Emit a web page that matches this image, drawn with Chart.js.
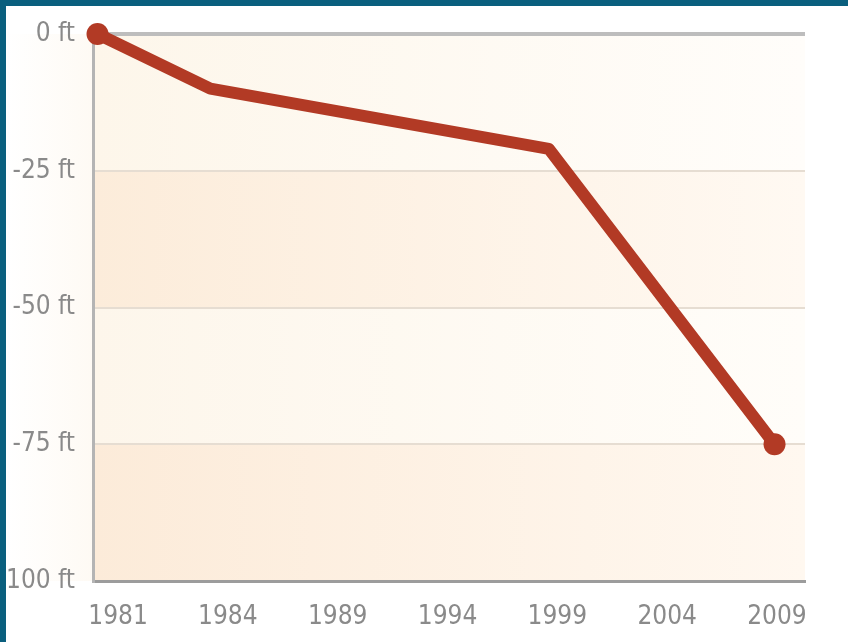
<!DOCTYPE html>
<html><head><meta charset="utf-8">
<script src="https://cdn.jsdelivr.net/npm/chart.js@4/dist/chart.umd.min.js"></script>
<style>html,body{margin:0;padding:0;background:#fff;}canvas{display:block;}</style>
</head><body>
<canvas id="c" width="848" height="642"></canvas>
<script>
// ---- data ----
const years = ['1981', '1984', '1989', '1994', '1999', '2004', '2009'];
const depthFt = [0, -10, null, null, -21, null, -75];
const yTickValues = [0, -25, -50, -75, -100];

// ---- styles ----
const LINE_COLOR = '#b23a25';
const TEXT_COLOR = '#8a8a8a';
const FRAME_COLOR = '#0a5f7e';
const BAND_COLORS = [
  ['#fdf6ea', '#fffdfa'],
  ['#fcecda', '#fff9f2'],
  ['#fdf6eb', '#fffdf9'],
  ['#fcebd9', '#fff8f0']
];

const points = depthFt
  .map((v, i) => (v === null ? null : { x: i, y: v }))
  .filter(Boolean);
const lastIdx = points.length - 1;

const bandsPlugin = {
  id: 'bands',
  beforeDraw(chart) {
    const { ctx, chartArea: a, scales: { y } } = chart;
    ctx.save();
    ctx.fillStyle = '#ffffff';
    ctx.fillRect(0, 0, chart.width, chart.height);
    const lg = ctx.createLinearGradient(6, 0, a.left, 0);
    lg.addColorStop(0, 'rgba(255,255,255,1)');
    lg.addColorStop(1, 'rgba(254,250,244,1)');
    ctx.fillStyle = lg;
    ctx.fillRect(6, a.top, a.left - 6, a.bottom - a.top);
    for (let i = 0; i < yTickValues.length - 1; i++) {
      const y0 = y.getPixelForValue(yTickValues[i]);
      const y1 = y.getPixelForValue(yTickValues[i + 1]);
      const g = ctx.createLinearGradient(a.left, 0, a.right, 0);
      g.addColorStop(0, BAND_COLORS[i][0]);
      g.addColorStop(1, BAND_COLORS[i][1]);
      ctx.fillStyle = g;
      ctx.fillRect(a.left, y0, a.right - a.left, y1 - y0);
    }
    ctx.restore();
  }
};

const framePlugin = {
  id: 'frame',
  afterDraw(chart) {
    const { ctx } = chart;
    ctx.save();
    ctx.fillStyle = FRAME_COLOR;
    ctx.fillRect(0, 0, chart.width, 6);
    ctx.fillRect(0, 0, 6, chart.height);
    ctx.restore();
  }
};

const font = { family: "'DejaVu Sans Condensed', 'DejaVu Sans', sans-serif", size: 26 };

new Chart(document.getElementById('c'), {
  type: 'line',
  data: {
    datasets: [{
      data: points,
      xAxisID: 'x',
      borderColor: LINE_COLOR,
      backgroundColor: LINE_COLOR,
      borderWidth: 12,
      borderJoinStyle: 'round',
      borderCapStyle: 'round',
      tension: 0,
      clip: false,
      pointRadius: (c) => (c.dataIndex === 0 || c.dataIndex === lastIdx ? 11 : 0),
      pointHoverRadius: (c) => (c.dataIndex === 0 || c.dataIndex === lastIdx ? 11 : 0),
      pointBorderWidth: 0
    }]
  },
  options: {
    responsive: false,
    animation: false,
    devicePixelRatio: 1,
    layout: { padding: { top: 34, right: 43, left: 0, bottom: 0 } },
    plugins: { legend: { display: false }, tooltip: { enabled: false } },
    scales: {
      x: {
        type: 'linear',
        display: false,
        min: -0.04,
        max: 6.27
      },
      xl: {
        type: 'linear',
        position: 'bottom',
        min: -0.228,
        max: 6.255,
        afterBuildTicks: (s) => { s.ticks = years.map((_, i) => ({ value: i })); },
        afterFit: (s) => { s.height = 61; },
        grid: { display: false, drawTicks: false },
        border: { display: true, color: '#9c9c9c', width: 3 },
        ticks: {
          callback: (v) => years[v],
          color: TEXT_COLOR,
          font: font,
          padding: 21,
          maxRotation: 0,
          autoSkip: false
        }
      },
      y: {
        min: -100,
        max: 0,
        afterBuildTicks: (s) => { s.ticks = yTickValues.map((v) => ({ value: v })); },
        afterFit: (s) => { s.width = 93; },
        grid: {
          drawTicks: false,
          color: (c) => (c.tick && c.tick.value === 0 ? '#bdbdbd' : (c.tick && c.tick.value === -100 ? 'rgba(0,0,0,0)' : '#e6ddd2')),
          lineWidth: (c) => (c.tick && c.tick.value === 0 ? 4 : 2)
        },
        border: { display: true, color: '#b4b4b4', width: 3 },
        ticks: {
          callback: (v) => v + ' ft',
          color: TEXT_COLOR,
          font: font,
          padding: 18
        }
      }
    }
  },
  plugins: [bandsPlugin, framePlugin]
});
</script>
</body></html>
